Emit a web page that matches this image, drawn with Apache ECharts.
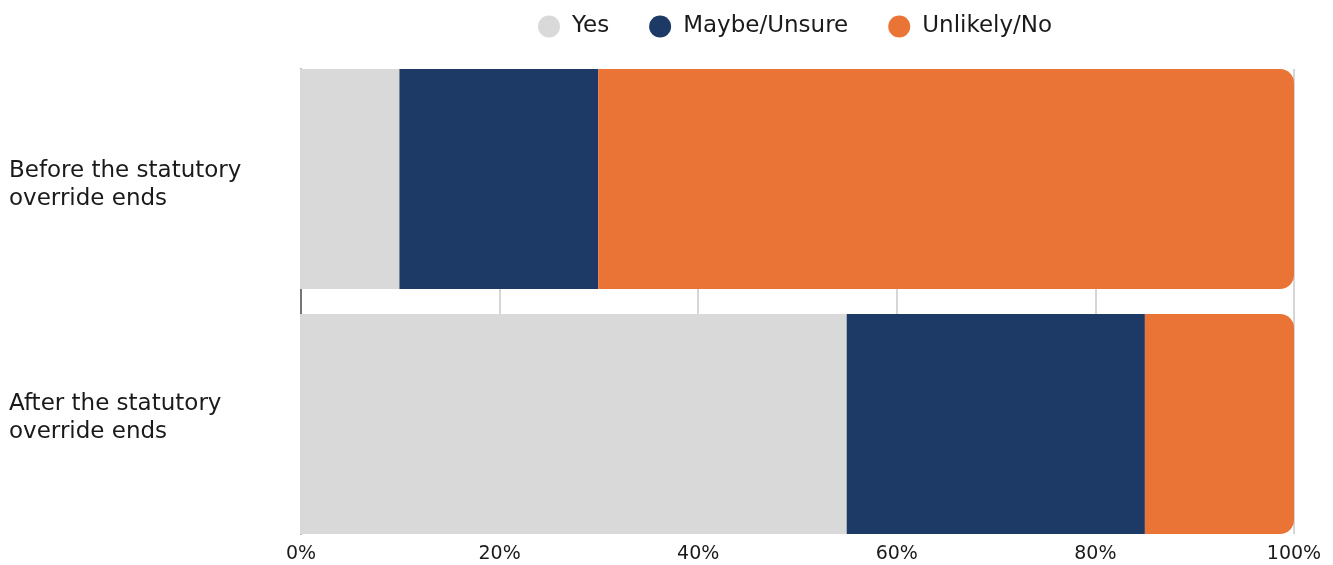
<!DOCTYPE html>
<html>
<head>
<meta charset="utf-8">
<script src="https://cdn.jsdelivr.net/npm/echarts@6/dist/echarts.min.js"></script>
<style>
  html, body { margin: 0; padding: 0; background: #ffffff; }
  #chart { width: 1333px; height: 565px; }
</style>
</head>
<body>
<div id="chart"></div>
<script>
// Survey responses: likelihood, by timing relative to the statutory override
const categories = ['Before the statutory\noverride ends', 'After the statutory\noverride ends'];
const seriesNames = ['Yes', 'Maybe/Unsure', 'Unlikely/No'];
const yesValues = [10, 55];
const maybeValues = [20, 30];
const unlikelyValues = [70, 15];
const tickValues = [0, 20, 40, 60, 80, 100];

const colors = ['#D9D9D9', '#1D3A66', '#EA7436'];
const font = '"DejaVu Sans", sans-serif';
const textColor = '#1a1a1a';

const chart = echarts.init(document.getElementById('chart'), null, { renderer: 'canvas' });

const values = [yesValues, maybeValues, unlikelyValues];

chart.setOption({
  animation: false,
  color: colors,
  textStyle: { fontFamily: font, color: textColor },
  legend: {
    top: 10,
    left: 533,
    icon: 'circle',
    itemWidth: 22,
    itemHeight: 22,
    itemGap: 40,
    data: seriesNames,
    textStyle: { fontFamily: font, fontSize: 23, color: textColor, padding: [0, 0, 0, 7] }
  },
  grid: [
    // grid holding the axes (labels, gridlines)
    { left: 301, right: 39, top: 69, bottom: 31 },
    // grid holding the bars
    { left: 300, right: 39, top: 56.5, bottom: 18.5 }
  ],
  xAxis: [
    {
      gridIndex: 0,
      type: 'value',
      min: tickValues[0],
      max: tickValues[tickValues.length - 1],
      interval: 20,
      axisLine: { show: false },
      axisTick: { show: false },
      splitLine: { show: true, lineStyle: { color: '#c8c8c8', width: 1.5 } },
      axisLabel: {
        formatter: v => v + '%',
        fontFamily: font,
        fontSize: 19,
        color: textColor,
        margin: 11
      }
    },
    {
      gridIndex: 1,
      type: 'value',
      min: 0,
      max: 100,
      show: false
    }
  ],
  yAxis: [
    {
      gridIndex: 0,
      type: 'category',
      inverse: true,
      data: categories,
      axisLine: { show: true, lineStyle: { color: '#555555', width: 1.5 } },
      axisTick: { show: false },
      axisLabel: {
        align: 'left',
        margin: 292,
        fontFamily: font,
        fontSize: 23,
        lineHeight: 28,
        color: textColor
      }
    },
    {
      gridIndex: 1,
      type: 'category',
      inverse: true,
      data: categories,
      show: false
    }
  ],
  series: seriesNames.map((name, i) => ({
    name: name,
    type: 'bar',
    stack: 'total',
    xAxisIndex: 1,
    yAxisIndex: 1,
    barWidth: 220,
    data: values[i],
    itemStyle: {
      color: colors[i],
      borderRadius: i === seriesNames.length - 1 ? [0, 14, 14, 0] : 0
    }
  }))
});
</script>
</body>
</html>
